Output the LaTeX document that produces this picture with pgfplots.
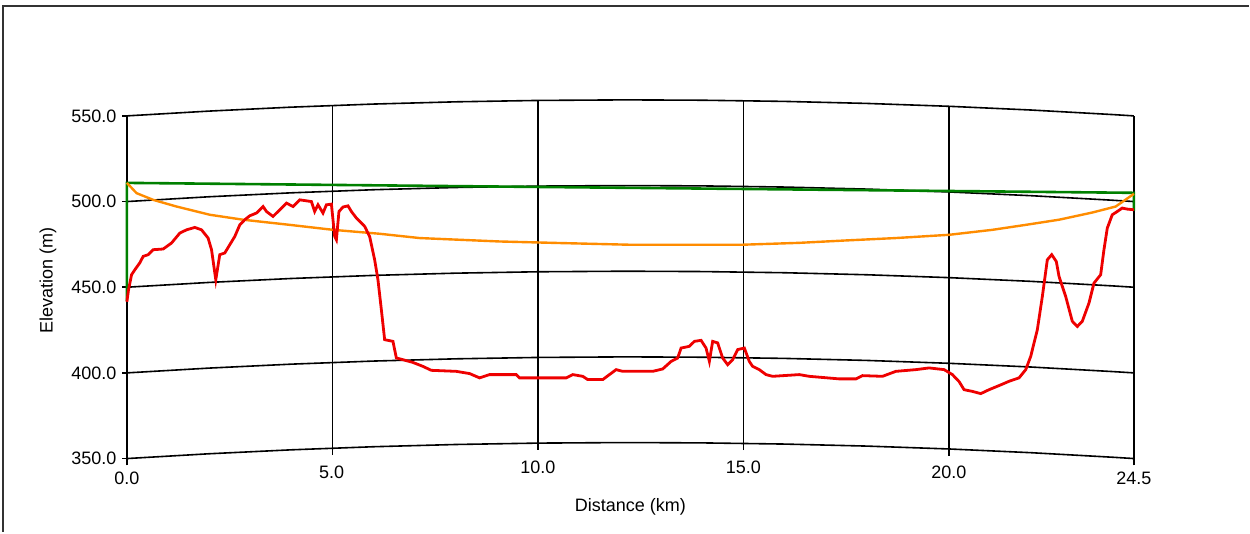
\documentclass[border=0pt]{standalone}
\usepackage{pgfplots}
\pgfplotsset{compat=1.18}
\usepackage{pgfplotstable}
\usepackage{fontspec}
\setmainfont{Liberation Sans}
\definecolor{terrain}{RGB}{238,0,0}
\definecolor{los}{RGB}{0,128,0}
\definecolor{fresnel}{RGB}{255,140,0}
\newcommand\lab{\fontsize{9bp}{10.8bp}\selectfont}

% earth-curvature bow of the constant-elevation lines (m)
\pgfplotstableread{
x b
0 0
2 2.799
4 5.100
6 6.904
8 8.210
10 9.019
12 9.330
12.25 9.334
14 9.143
16 8.459
18 7.277
20 5.598
22 3.421
24 0.746
24.5 0
}\bow

\pgfplotstableread{
x y
0 441.5
0.04 448.5
0.114 457.3
0.194 460.2
0.316 464.3
0.396 468.0
0.518 469.0
0.639 471.9
0.882 472.3
1.086 475.8
1.288 481.6
1.451 483.5
1.653 484.9
1.816 483.5
1.976 478.7
2.059 471.9
2.163 454.4
2.260 469.0
2.382 470.0
2.503 474.8
2.625 479.6
2.747 486.4
2.868 489.4
2.990 491.7
3.153 493.3
3.313 497.1
3.396 494.2
3.556 491.3
3.719 495.2
3.882 499.1
4.042 497.1
4.205 501.0
4.489 500.0
4.569 494.2
4.650 498.1
4.771 493.3
4.854 498.1
4.976 498.5
5.014 489.4
5.056 479.6
5.097 477.7
5.160 494.2
5.257 496.8
5.379 497.5
5.462 494.2
5.583 490.4
5.785 485.5
5.906 479.6
6.028 466.0
6.108 454.4
6.191 436.9
6.271 419.4
6.473 418.4
6.556 408.7
6.716 407.7
6.959 406.1
7.202 403.8
7.406 401.5
8.014 400.9
8.337 399.6
8.580 397.1
8.823 399.0
9.472 399.0
9.552 397.1
10.687 397.1
10.848 399.0
11.091 398.0
11.212 396.1
11.577 396.1
11.740 399.0
11.903 401.9
12.063 400.9
12.793 400.9
13.036 402.3
13.240 406.7
13.400 408.7
13.483 414.5
13.685 415.5
13.806 418.4
13.969 419.0
14.090 414.5
14.171 406.7
14.251 418.4
14.373 417.5
14.494 408.7
14.616 404.8
14.737 407.7
14.859 413.6
15.022 414.5
15.143 406.7
15.224 403.8
15.386 401.9
15.549 399.0
15.709 398.0
16.358 399.0
16.601 398.0
17.330 396.5
17.736 396.5
17.896 398.4
18.383 398.0
18.708 400.9
19.194 401.9
19.518 402.9
19.882 401.9
20.084 399.0
20.247 394.9
20.368 390.2
20.570 389.2
20.774 387.9
20.976 390.2
21.219 392.6
21.462 395.1
21.705 397.1
21.868 401.9
21.990 409.7
22.150 425.2
22.272 444.6
22.393 466.0
22.500 469.0
22.612 465.0
22.678 456.3
22.840 444.6
23.001 430.1
23.123 427.1
23.244 430.1
23.407 440.8
23.528 452.4
23.691 457.3
23.771 471.9
23.852 484.5
23.973 492.3
24.095 494.2
24.216 496.2
24.338 495.6
24.5 495.2
}\terraintab

\pgfplotstableread{
x y
0 510.9
0.236 504.9
0.639 501.0
1.208 497.1
2.017 492.3
2.827 489.4
3.962 486.4
5.014 483.5
6.150 481.2
7.122 478.7
8.094 477.7
9.066 476.7
10.525 475.8
12.226 474.8
14.973 474.8
16.358 475.9
17.493 477.3
18.708 478.7
20.004 480.6
21.057 483.5
21.868 486.4
22.678 489.4
23.488 493.6
24.057 497.1
24.5 504.5
}\fresneltab

\begin{document}
\begin{tikzpicture}
\begin{axis}[
  scale only axis, width=504bp, height=171.5bp,
  xmin=0, xmax=24.5, ymin=350, ymax=550,
  axis lines=none, ticks=none, clip=false,
]
% page extent and window frame
\path (axis cs:-3.087,306.85) rectangle (axis cs:27.295,617.64);
\draw[black!80, line width=1.2bp] (axis cs:27.295,614.1) -- (axis cs:-3.014,614.1) -- (axis cs:-3.014,306.85);

% curved elevation grid lines
\addplot[black, line width=0.8bp] table[x=x, y expr=\thisrow{b}+550] {\bow};
\addplot[black, line width=0.8bp] table[x=x, y expr=\thisrow{b}+500] {\bow};
\addplot[black, line width=0.8bp] table[x=x, y expr=\thisrow{b}+450] {\bow};
\addplot[black, line width=0.8bp] table[x=x, y expr=\thisrow{b}+400] {\bow};
\addplot[black, line width=0.8bp] table[x=x, y expr=\thisrow{b}+350] {\bow};
% vertical distance lines
\addplot[black, line width=0.8bp] coordinates {(0,346) (0,550)};
\addplot[black, line width=0.8bp] coordinates {(5,352.07) (5,556.07)};
\addplot[black, line width=0.8bp] coordinates {(10,355.02) (10,559.02)};
\addplot[black, line width=0.8bp] coordinates {(15,354.86) (15,558.86)};
\addplot[black, line width=0.8bp] coordinates {(20,351.6) (20,555.6)};
\addplot[black, line width=0.8bp] coordinates {(24.5,346) (24.5,550)};
% left tick stubs and labels
\pgfplotsinvokeforeach{350,400,450,500,550}{
  \draw[black, line width=0.8bp] (axis cs:0,#1) -- (axis cs:-0.13,#1);
  \node[anchor=east, inner sep=0pt, font=\lab] at (axis cs:-0.243,#1) {#1.0};
}

% series
\addplot[los, line width=1.3bp] coordinates {(0,442) (0,510.9) (24.5,505.1) (24.5,494.5)};
\addplot[fresnel, line width=1.2bp] table[x=x,y=y] {\fresneltab};
\addplot[terrain, line width=1.4bp] table[x=x,y=y] {\terraintab};

% x tick labels
\node[font=\lab, inner sep=0pt] at (axis cs:0,338.3) {0.0};
\node[font=\lab, inner sep=0pt] at (axis cs:4.98,341.8) {5.0};
\node[font=\lab, inner sep=0pt] at (axis cs:10,344.7) {10.0};
\node[font=\lab, inner sep=0pt] at (axis cs:15,344.7) {15.0};
\node[font=\lab, inner sep=0pt] at (axis cs:20,341.8) {20.0};
\node[font=\lab, inner sep=0pt] at (axis cs:24.5,338.3) {24.5};
% axis titles
\node[font=\lab, inner sep=0pt] at (axis cs:12.25,322.0) {Distance (km)};
\node[font=\lab, inner sep=0pt, rotate=90] at (axis cs:-1.92,453.8) {Elevation (m)};
\end{axis}
\end{tikzpicture}
\end{document}
